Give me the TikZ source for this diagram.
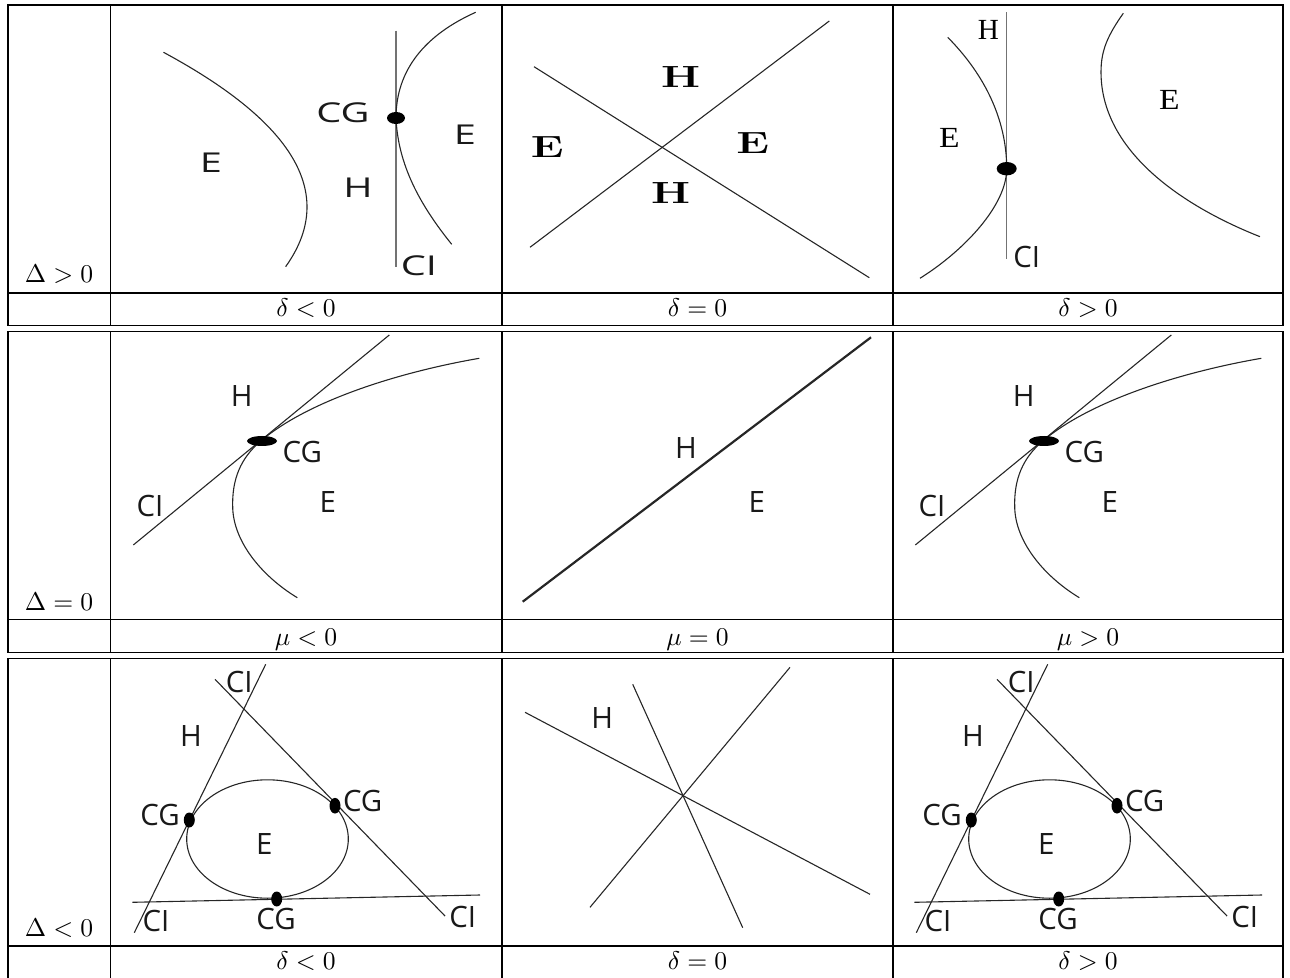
\documentclass[tikz,border=0pt]{standalone}
\usepackage{fontspec}
\usepackage{graphicx}
\newfontfamily\labsans{Open Sans}
\newfontfamily\labserif{Liberation Serif}
\newcommand\wa[1]{\scalebox{1.35}[0.93]{#1}}
\newcommand\wb[1]{\scalebox{1.45}[1]{#1}}
\newcommand\wc[1]{\scalebox{1.15}[1]{#1}}
\newcommand\wm[1]{\scalebox{1.28}{#1}}
\begin{document}
\begin{tikzpicture}[x=0.5pt,y=-0.5pt,
  grid/.style={line width=0.8pt},
  curve/.style={line width=0.55pt, black!85},
  cline/.style={line width=0.6pt, black!55},
  thickline/.style={line width=1.1pt, black!85},
  sl/.style={font=\labsans\fontsize{14.7}{17}\selectfont, inner sep=0, text=black!90},
  bl/.style={font=\fontsize{15.3}{18}\selectfont\bfseries, inner sep=0},
  rl/.style={font=\labserif\fontsize{14.6}{17}\selectfont, inner sep=0},
  ml/.style={font=\fontsize{10}{12}\selectfont, inner sep=0, anchor=base}]
\useasboundingbox (0,0) rectangle (1290,978);

% ---------- table grid ----------
\foreach \T/\M/\B in {5/293.3/325.7, 331.5/619.5/652.5} {
  \draw[grid] (8,\T) rectangle (1283,\B);
  \draw[grid] (8,\M) -- (1283,\M);
  \foreach \X in {110.3,502,893} \draw[grid] (\X,\T) -- (\X,\B);
}
\draw[grid] (8,978) -- (8,658.3) -- (1283,658.3) -- (1283,978);
\draw[grid] (8,945.7) -- (1283,945.7);
\foreach \X in {110.3,502,893} \draw[grid] (\X,658.3) -- (\X,978);

% ---------- row labels ----------
\node[ml] (D1) at (59,282.7) {\wm{$\Delta>0$}};
\node[ml] (D2) at (59,610) {\wm{$\Delta=0$}};
\node[ml] (D3) at (59,936) {\wm{$\Delta<0$}};
\node[ml] (b11) at (306,316.7) {\wm{$\delta<0$}};
\node[ml] (b12) at (697.5,316.7) {\wm{$\delta=0$}};
\node[ml] (b13) at (1088,316.7) {\wm{$\delta>0$}};
\node[ml] (b21) at (306,645) {\wm{$\mu<0$}};
\node[ml] (b22) at (697.5,645) {\wm{$\mu=0$}};
\node[ml] (b23) at (1088,645) {\wm{$\mu>0$}};
\node[ml] (b31) at (306,969.3) {\wm{$\delta<0$}};
\node[ml] (b32) at (697.5,969.3) {\wm{$\delta=0$}};
\node[ml] (b33) at (1088,969.3) {\wm{$\delta>0$}};

% ---------- cell 1,1 ----------
\draw[curve] plot[domain=52.3:266.7, samples=60, variable=\t] ({307-0.006*(\t-207)*(\t-207)},\t);
\draw[cline] (396,30.7) -- (396,267.3);
\draw[curve] (475.7,12.3) .. controls (425,35) and (396,70) .. (396,118)
  .. controls (398,165) and (420,205) .. (451.7,244.3);
\fill (396,118) ellipse [x radius=9, y radius=6];
\node[sl] (cg11) at (343,113) {\wa{CG}};
\node[sl] (e11a) at (211,163) {\wa{E}};
\node[sl] (h11) at (358,188) {\wa{H}};
\node[sl] (e11b) at (465,135) {\wa{E}};
\node[sl] (ci11) at (419,266) {\wa{CI}};

% ---------- cell 1,2 ----------
\draw[curve] (534,66.7) -- (869.3,277.7);
\draw[curve] (530,247.3) -- (829.3,21);
\node[bl] (h12a) at (680.7,77.3) {\wb{H}};
\node[bl] (e12a) at (547.3,146.7) {\wb{E}};
\node[bl] (e12b) at (752.7,143.3) {\wb{E}};
\node[bl] (h12b) at (670.7,193.3) {\wb{H}};

% ---------- cell 1,3 ----------
\draw[cline] (1006.7,12.3) -- (1006.7,259);
\draw[curve] (947.7,37.3) .. controls (985,75) and (1006.7,120) .. (1006.7,168.7)
  .. controls (1006.7,205) and (965,250) .. (920,278.3);
\draw[curve] (1123.3,13.3) .. controls (1108,35) and (1101,50) .. (1101,72)
  .. controls (1101,150) and (1180,205) .. (1260,236.7);
\fill (1006.7,168.7) ellipse [x radius=10, y radius=6.7];
\node[rl] (h13) at (988.3,30) {H};
\node[rl] (e13a) at (949.3,138.3) {\wc{E}};
\node[rl] (e13b) at (1169.3,100) {\wc{E}};
\node[sl] (ci13) at (1026.7,256.7) {CI};

% ---------- cell 2,1 ----------
\draw[curve] (133.3,545) -- (389.3,335);
\draw[curve] (479.3,358.3) .. controls (400,372) and (310,400) .. (262,440)
  .. controls (240,458) and (232,480) .. (232.7,506.7)
  .. controls (233,540) and (260,575) .. (297.3,597.7);
\fill (262,441) ellipse [x radius=15, y radius=5];
\node[sl] (h21) at (241.7,396) {H};
\node[sl] (cg21) at (302.3,451.7) {CG};
\node[sl] (ci21) at (150,505.7) {CI};
\node[sl] (e21) at (327.7,502.3) {E};

% ---------- cell 2,2 ----------
\draw[thickline] (522.7,601.7) -- (871,337.3);
\node[sl] (h22) at (686,447.7) {H};
\node[sl] (e22) at (756.7,501.7) {E};

% ---------- cell 2,3 ----------
\begin{scope}[shift={(782,0)}]
\draw[curve] (133.3,545) -- (389.3,335);
\draw[curve] (479.3,358.3) .. controls (400,372) and (310,400) .. (262,440)
  .. controls (240,458) and (232,480) .. (232.7,506.7)
  .. controls (233,540) and (260,575) .. (297.3,597.7);
\fill (262,441) ellipse [x radius=15, y radius=5];
\node[sl] (h23) at (241.7,396) {H};
\node[sl] (cg23) at (302.3,451.7) {CG};
\node[sl] (ci23) at (150,505.7) {CI};
\node[sl] (e23) at (327.7,502.3) {E};
\end{scope}

% ---------- cell 3,1 ----------
\draw[curve] (267.5,839) ellipse [x radius=80.8, y radius=59.2];
\draw[curve] (134.3,932.7) -- (265.7,664.3);
\draw[curve] (215,679.3) -- (445,916);
\draw[curve] (132.3,902.3) -- (480,895);
\fill (189.3,820) ellipse [x radius=5.5, y radius=7.5];
\fill (335,805.7) ellipse [x radius=5.5, y radius=7.8];
\fill (276.7,899) ellipse [x radius=5.5, y radius=7.5];
\node[sl] (ci31a) at (239.3,681.7) {CI};
\node[sl] (h31) at (191,735.7) {H};
\node[sl] (cg31a) at (160,815) {CG};
\node[sl] (cg31b) at (362.7,801) {CG};
\node[sl] (e31) at (264.3,844.3) {E};
\node[sl] (cg31c) at (276,919.3) {CG};
\node[sl] (ci31b) at (156,920.7) {CI};
\node[sl] (ci31c) at (462.7,916.7) {CI};

% ---------- cell 3,2 ----------
\draw[curve] (525,712.3) -- (870,894.3);
\draw[curve] (632.7,684.3) -- (742.7,927.7);
\draw[curve] (590,907.3) -- (790,667.3);
\node[sl] (h32) at (602.3,717.7) {H};

% ---------- cell 3,3 ----------
\begin{scope}[shift={(782,0)}]
\draw[curve] (267.5,839) ellipse [x radius=80.8, y radius=59.2];
\draw[curve] (134.3,932.7) -- (265.7,664.3);
\draw[curve] (215,679.3) -- (445,916);
\draw[curve] (132.3,902.3) -- (480,895);
\fill (189.3,820) ellipse [x radius=5.5, y radius=7.5];
\fill (335,805.7) ellipse [x radius=5.5, y radius=7.8];
\fill (276.7,899) ellipse [x radius=5.5, y radius=7.5];
\node[sl] (ci33a) at (239.3,681.7) {CI};
\node[sl] (h33) at (191,735.7) {H};
\node[sl] (cg33a) at (160,815) {CG};
\node[sl] (cg33b) at (362.7,801) {CG};
\node[sl] (e33) at (264.3,844.3) {E};
\node[sl] (cg33c) at (276,919.3) {CG};
\node[sl] (ci33b) at (156,920.7) {CI};
\node[sl] (ci33c) at (462.7,916.7) {CI};
\end{scope}
\end{tikzpicture}
\end{document}
